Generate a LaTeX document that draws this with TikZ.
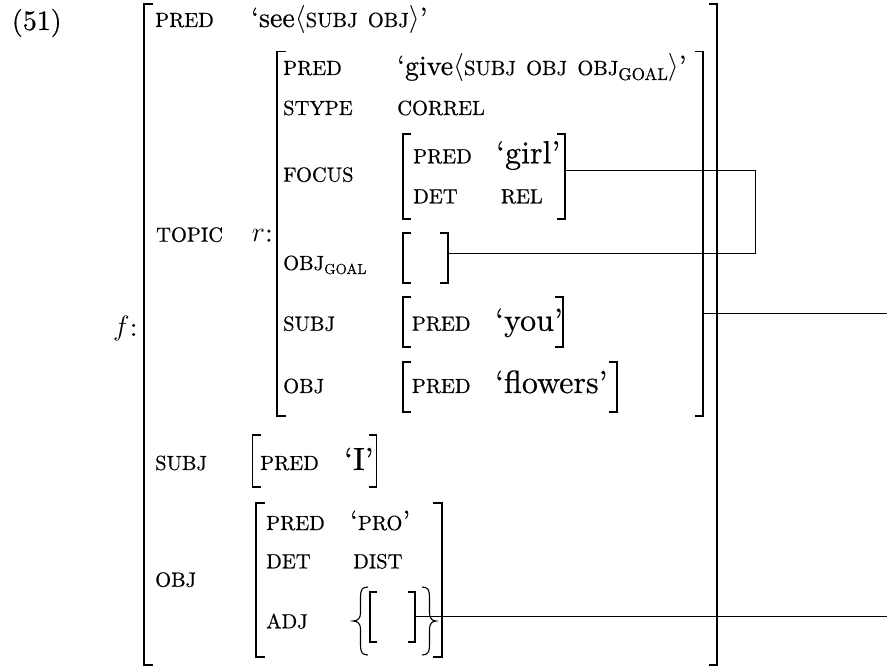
\documentclass[tikz,border=0pt]{standalone}
\usepackage{fix-cm}
\usepackage{fontspec}
\setmainfont{lmroman10-regular.otf}[FakeBold=0.5, ItalicFont=lmroman10-italic.otf]
\newcommand{\att}[1]{{\fontsize{20.5}{24}\selectfont #1}}
\newcommand{\subatt}[1]{{\fontsize{14.5}{16}\selectfont #1}}
\begin{document}
\begin{tikzpicture}[x=1pt,y=-1pt,
  attr/.style={anchor=base west, inner sep=0pt, font=\fontsize{20.5}{24}\selectfont},
  val/.style={anchor=base west, inner sep=0pt, font=\fontsize{28}{32}\selectfont},
  bigval/.style={anchor=base west, inner sep=0pt, font=\fontsize{32}{36}\selectfont},
  bigbr/.style={line width=1.6pt},
  smallbr/.style={line width=1.2pt},
  bracestyle/.style={line width=1.1pt},
  conn/.style={line width=0.9pt}]
\useasboundingbox (0,0) rectangle (887,668);

% example number
\node[val] (ex) at (11.7,30) {(51)};

% outer f-structure brackets
\draw[bigbr] (153,4) -| (144,665) -- (153,665);
\draw[bigbr] (709,4) -| (717,665) -- (709,665);
\node[val] (flab) at (113,336) {$f$:};
\node[attr] (pred0) at (155,27) {PRED};
\node[val] (see) at (251,27) {‘see$\langle$\att{SUBJ\, OBJ}$\rangle$’};
\node[attr] (topic) at (156,241.7) {TOPIC};
\node[val] (rlab) at (251.7,241.7) {$r$:};

% inner r brackets
\draw[bigbr] (285.5,51.7) -| (276.7,416) -- (285.5,416);
\draw[bigbr] (694.7,51.7) -| (702.7,416) -- (694.7,416);
\node[attr] (predr) at (283,75) {PRED};
\node[val] (give) at (397,75) {‘give$\langle$\att{SUBJ\, OBJ\, OBJ}\raisebox{-5pt}{\fontsize{17}{19}\selectfont GOAL}$\rangle$’};
\node[attr] (stype) at (283,115) {STYPE};
\node[attr] (correl) at (397,115) {CORREL};
\node[attr] (focus) at (283,181.7) {FOCUS};
\node[attr] (objgoal) at (283,270) {OBJ\raisebox{-4pt}{\subatt{GOAL}}};
\node[attr] (subjr) at (283,330.7) {SUBJ};
\node[attr] (objr) at (283,393) {OBJ};

% focus value
\draw[smallbr] (411,134) -| (403,219) -- (411,219);
\draw[smallbr] (557,134) -| (565,219) -- (557,219);
\node[attr] (predf) at (413,163.3) {PRED};
\node[bigval] (girl) at (496,163.3) {‘girl’};
\node[attr] (detf) at (413,203.3) {DET};
\node[attr] (rel) at (500.7,203.3) {REL};

% obj_goal value
\draw[smallbr] (411,233) -| (403,283) -- (411,283);
\draw[smallbr] (440,233) -| (448,283) -- (440,283);

% subj (you)
\draw[smallbr] (411,297) -| (403,347) -- (411,347);
\draw[smallbr] (555,297) -| (563,347) -- (555,347);
\node[attr] (predy) at (411.7,330.7) {PRED};
\node[bigval] (you) at (495,330.7) {‘you’};

% obj (flowers)
\draw[smallbr] (411,362) -| (403,412) -- (411,412);
\draw[smallbr] (609,362) -| (617,412) -- (609,412);
\node[attr] (predfl) at (411.7,393) {PRED};
\node[bigval] (flowers) at (495,393) {‘flowers’};

% outer subj
\node[attr] (subj0) at (155,470) {SUBJ};
\draw[smallbr] (260.5,435) -| (252.7,487) -- (260.5,487);
\draw[smallbr] (369,435) -| (376.7,487) -- (369,487);
\node[attr] (predi) at (260,470) {PRED};
\node[bigval] (iv) at (344,470) {‘I’};

% outer obj
\node[attr] (obj0) at (155,586.7) {OBJ};
\draw[bigbr] (265,503) -| (256,657) -- (265,657);
\draw[bigbr] (433,503) -| (441.7,657) -- (433,657);
\node[attr] (predo) at (266,530) {PRED};
\node[val] (pro) at (350,530) {‘\att{PRO}’};
\node[attr] (deto) at (266,568.3) {DET};
\node[attr] (dist) at (353,568.3) {DIST};
\node[attr] (adj) at (266,628.3) {ADJ};

% adj set
\draw[bracestyle] (368,587) .. controls (362,587) and (360.5,590) .. (360.5,597) -- (360.5,613) .. controls (360.5,618) and (358,621) .. (353,621) .. controls (358,621) and (360.5,624) .. (360.5,629) -- (360.5,645) .. controls (360.5,652) and (362,655) .. (368,655);
\draw[bracestyle] (422,587) .. controls (428,587) and (429.5,590) .. (429.5,597) -- (429.5,613) .. controls (429.5,618) and (432,621) .. (436,621) .. controls (432,621) and (429.5,624) .. (429.5,629) -- (429.5,645) .. controls (429.5,652) and (428,655) .. (422,655);
\draw[smallbr] (377,592) -| (370,642) -- (377,642);
\draw[smallbr] (408,592) -| (415,642) -- (408,642);

% connectors
\coordinate (focusR) at (565,170);
\coordinate (turnA) at (755.7,170);
\coordinate (turnB) at (755.7,253.3);
\coordinate (goalR) at (448,253.3);
\coordinate (rR) at (702.7,313.3);
\coordinate (rEnd) at (887,313.3);
\coordinate (adjR) at (415,616.7);
\coordinate (adjEnd) at (887,616.7);
\draw[conn] (focusR) -- (turnA) -- (turnB) -- (goalR);
\draw[conn] (rR) -- (rEnd);
\draw[conn] (adjR) -- (adjEnd);
\end{tikzpicture}
\end{document}
